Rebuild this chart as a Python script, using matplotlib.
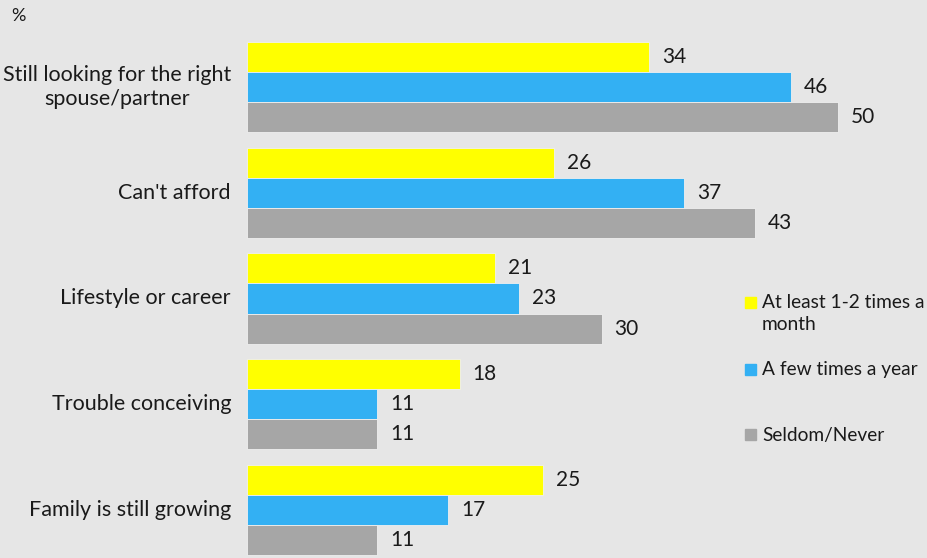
import matplotlib.pyplot as plt
from matplotlib.patches import Rectangle

plt.rcParams['font.family'] = ['Lato', 'DejaVu Sans']

categories = ['Still looking for the right\nspouse/partner', "Can't afford",
              'Lifestyle or career', 'Trouble conceiving', 'Family is still growing']
series_names = ['At least 1-2 times a\nmonth', 'A few times a year', 'Seldom/Never']
monthly = [34, 26, 21, 18, 25]
yearly = [46, 37, 23, 11, 17]
seldom = [50, 43, 30, 11, 11]

colors = ['#FFFF00', '#33B0F3', '#A6A6A6']
bg = '#E6E6E6'
txt = '#1a1a1a'
W, H = 927, 558

fig = plt.figure(figsize=(W / 100, H / 100), dpi=100, facecolor=bg)
ax = fig.add_axes([247 / W, 0, 1 - 247 / W, 1])
ax.set_facecolor(bg)

bar_h = 0.284
for k, vals in enumerate([monthly, yearly, seldom]):
    ys = [i + (k - 1) * bar_h for i in range(len(categories))]
    ax.barh(ys, vals, height=bar_h, color=colors[k], edgecolor='#f0f0f0', linewidth=0.6)
    for y, v in zip(ys, vals):
        ax.text(v + 1.1, y, str(v), va='center', ha='left', fontsize=15, color=txt)

ax.set_xlim(0, (W - 247) / 11.82)
ax.set_ylim((H - 87) / 105.75, -87 / 105.75)
ax.axis('off')

# category labels, right-aligned just left of the bars
for i, cat in enumerate(categories):
    y_fig = 1 - (87 + i * 105.75) / H
    fig.text(231 / W, y_fig, cat, ha='right', va='center', multialignment='center',
             fontsize=15.5, color=txt, linespacing=1.2)

fig.text(11 / W, 1 - 16 / H, '%', ha='left', va='center', fontsize=13, color=txt)

# legend: squares plus labels (first label wraps onto a second line)
legend_rows = [303, 370, 435]
for color, yp in zip(colors, legend_rows):
    fig.patches.append(Rectangle((745 / W, 1 - (yp + 5) / H), 11 / W, 11 / H,
                                 transform=fig.transFigure, color=color))

first, second = series_names[0].split('\n')
fig.text(762 / W, 1 - 303 / H, first, ha='left', va='center', fontsize=13.8, color=txt)
fig.text(762 / W, 1 - 325 / H, second, ha='left', va='center', fontsize=13.8, color=txt)
fig.text(762 / W, 1 - 370 / H, series_names[1], ha='left', va='center', fontsize=13.8, color=txt)
fig.text(762 / W, 1 - 435 / H, series_names[2], ha='left', va='center', fontsize=13.8, color=txt)

fig.savefig('out.png', dpi=100, facecolor=bg)
